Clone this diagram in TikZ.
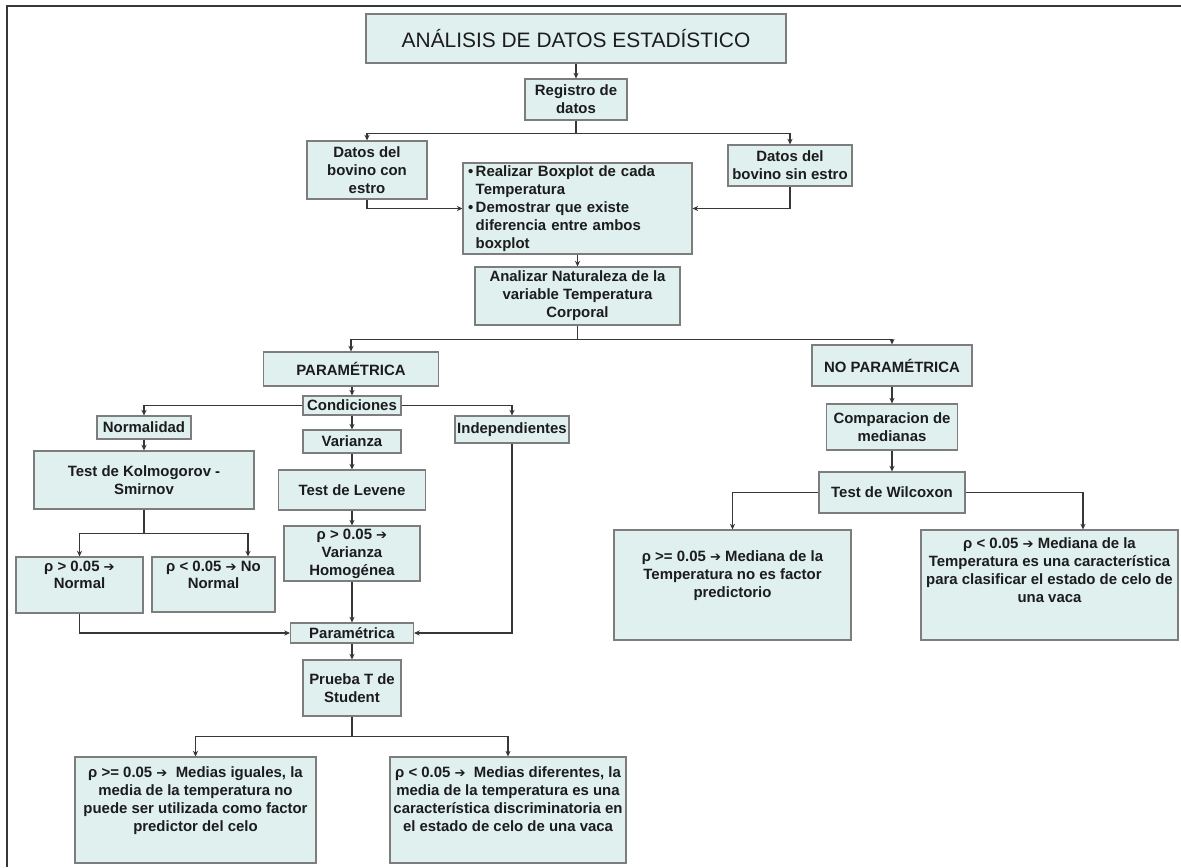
\documentclass[tikz,border=0pt]{standalone}
\usepackage{fontspec}
\setmainfont{Liberation Sans}
\newfontfamily\arrowfont{DejaVu Sans}
\usetikzlibrary{arrows.meta}
\definecolor{boxfill}{RGB}{223,240,238}
\definecolor{boxline}{RGB}{125,125,125}
\definecolor{ink}{RGB}{28,28,28}
\definecolor{wire}{RGB}{55,55,55}
\newcommand{\ar}{{\arrowfont\fontsize{7.5}{10.2}\selectfont ➔}}
\tikzset{
  box/.style={draw=boxline, fill=boxfill, line width=0.7pt, inner sep=1pt,
    align=center, text=ink, font=\bfseries\fontsize{8.5}{10.2}\selectfont},
  textpos/.style 2 args={text height=#1, text depth=#2},
  wire/.style={draw=wire, line width=0.7pt, -{Stealth[length=3.2pt,width=3pt]}},
}
\begin{document}
\begin{tikzpicture}[x=0.02cm,y=-0.02cm]
\useasboundingbox (0,0) rectangle (1181,867);
\draw[wire,-] (1181,6) -- (7,6) -- (7,867);

% upper part
\node[box, minimum width=8.4cm, minimum height=0.98cm, font=\fontsize{11.9}{14}\selectfont] (title) at (576,38.5) {ANÁLISIS DE DATOS ESTADÍSTICO};
\node[box, minimum width=2.04cm, minimum height=0.82cm] (reg) at (576,99.5) {Registro de\\datos};
\node[box, minimum width=2.4cm, minimum height=1.16cm] (con) at (367,170) {Datos del\\bovino con\\estro};
\node[box, minimum width=2.48cm, minimum height=0.82cm] (sin) at (790,165.5) {Datos del\\bovino sin estro};
\node[box, align=left, text width=4.38cm, inner xsep=0.1cm, minimum height=1.82cm] (bxp) at (577.5,208.5)
  {\textbullet\,Realizar Boxplot de cada\\\phantom{\textbullet\,}Temperatura\\\textbullet\,Demostrar que existe\\\phantom{\textbullet\,}diferencia entre ambos\\\phantom{\textbullet\,}boxplot};
\node[box, minimum width=4.1cm, minimum height=1.16cm] (ana) at (577.5,296) {Analizar Naturaleza de la\\variable Temperatura\\Corporal};

% parametric branch
\node[box, minimum width=3.5cm, minimum height=0.68cm] (par) at (351,369) {PARAMÉTRICA};
\node[box, minimum width=1.96cm, minimum height=0.38cm] (cond) at (352,405.5) {Condiciones};
\node[box, minimum width=1.88cm, minimum height=0.46cm] (norm) at (144,427.5) {Normalidad};
\node[box, minimum width=1.96cm, minimum height=0.46cm] (var) at (352,441.5) {Varianza};
\node[box, minimum width=2.28cm, minimum height=0.54cm] (ind) at (512,429.5) {Independientes};
\node[box, minimum width=4.4cm, minimum height=1.16cm] (ks) at (144,480) {Test de Kolmogorov -\\Smirnov};
\node[box, minimum width=2.94cm, minimum height=0.8cm] (lev) at (352,490) {Test de Levene};
\node[box, minimum width=2.72cm, minimum height=1.1cm] (hom) at (352,553.5) {ρ > 0.05 \ar\\Varianza\\Homogénea};
\node[box, textpos={17.2pt}{12.7pt}, minimum width=2.54cm] (pn) at (79.5,585) {ρ > 0.05 \ar\\Normal};
\node[box, textpos={17.2pt}{12.1pt}, minimum width=2.46cm] (nn) at (213.5,584.5) {ρ < 0.05 \ar{} No\\Normal};
\node[box, minimum width=2.46cm, minimum height=0.4cm] (parm) at (352,633) {Paramétrica};
\node[box, minimum width=1.96cm, minimum height=1.12cm] (pt) at (352,688) {Prueba T de\\Student};
\node[box, textpos={41.5pt}{16.8pt}, minimum width=4.82cm] (r1) at (195.5,810)
  {ρ >= 0.05 \ar\ \ Medias iguales, la\\media de la temperatura no\\puede ser utilizada como factor\\predictor del celo};
\node[box, textpos={41.5pt}{16.8pt}, minimum width=4.72cm] (r2) at (508,810)
  {ρ < 0.05 \ar\ \ Medias diferentes, la\\media de la temperatura es una\\característica discriminatoria en\\el estado de celo de una vaca};

% non parametric branch
\node[box, minimum width=3.2cm, minimum height=0.82cm] (nopar) at (892,365.5) {NO PARAMÉTRICA};
\node[box, minimum width=2.62cm, minimum height=0.92cm] (comp) at (892,427) {Comparacion de\\medianas};
\node[box, minimum width=2.92cm, minimum height=0.82cm] (wil) at (892,492.5) {Test de Wilcoxon};
\node[box, textpos={37.6pt}{23pt}, minimum width=4.74cm] (w1) at (732.5,585)
  {ρ >= 0.05 \ar{} Mediana de la\\Temperatura no es factor\\predictorio};
\node[box, textpos={40.4pt}{20.2pt}, minimum width=5.14cm] (w2) at (1049.5,585)
  {ρ < 0.05 \ar{} Mediana de la\\Temperatura es una característica\\para clasificar el estado de celo de\\una vaca};

% connectors
\draw[wire] (title) -- (reg);
\draw[wire] (reg.south) -- ++(0,12.5) -| (con.north);
\draw[wire] (reg.south) ++(0,12.5) -| (sin.north);
\draw[wire] (con.south) |- (bxp.west);
\draw[wire] (sin.south) |- (bxp.east);
\draw[wire] (bxp) -- (ana);
\draw[wire] (ana.south) -- ++(0,14) -| (par.north);
\draw[wire] (ana.south) ++(0,14) -| (nopar.north);

\draw[wire] (par.south -| cond.north) -- (cond.north);
\draw[wire] (cond.west) -| (norm.north);
\draw[wire] (cond.east) -| (ind.north);
\draw[wire] (cond) -- (var);
\draw[wire] (var) -- (lev);
\draw[wire] (lev) -- (hom);
\draw[wire] (norm) -- (ks);
\draw[wire] (ks.south) -- ++(0,24) -| (pn.north);
\draw[wire] (ks.south) ++(0,24) -| ([xshift=0.69cm]nn.north);
\draw[wire] (pn.south) |- (parm.west);
\draw[wire] (ind.south) |- (parm.east);
\draw[wire] (hom) -- (parm);
\draw[wire] (parm) -- (pt);
\draw[wire] (pt.south) -- ++(0,20) -| (r1.north);
\draw[wire] (pt.south) ++(0,20) -| (r2.north);

\draw[wire] (nopar) -- (comp);
\draw[wire] (comp) -- (wil);
\draw[wire] (wil.west) -| (w1.north);
\draw[wire] (wil.east) -| ([xshift=0.67cm]w2.north);
\end{tikzpicture}
\end{document}
